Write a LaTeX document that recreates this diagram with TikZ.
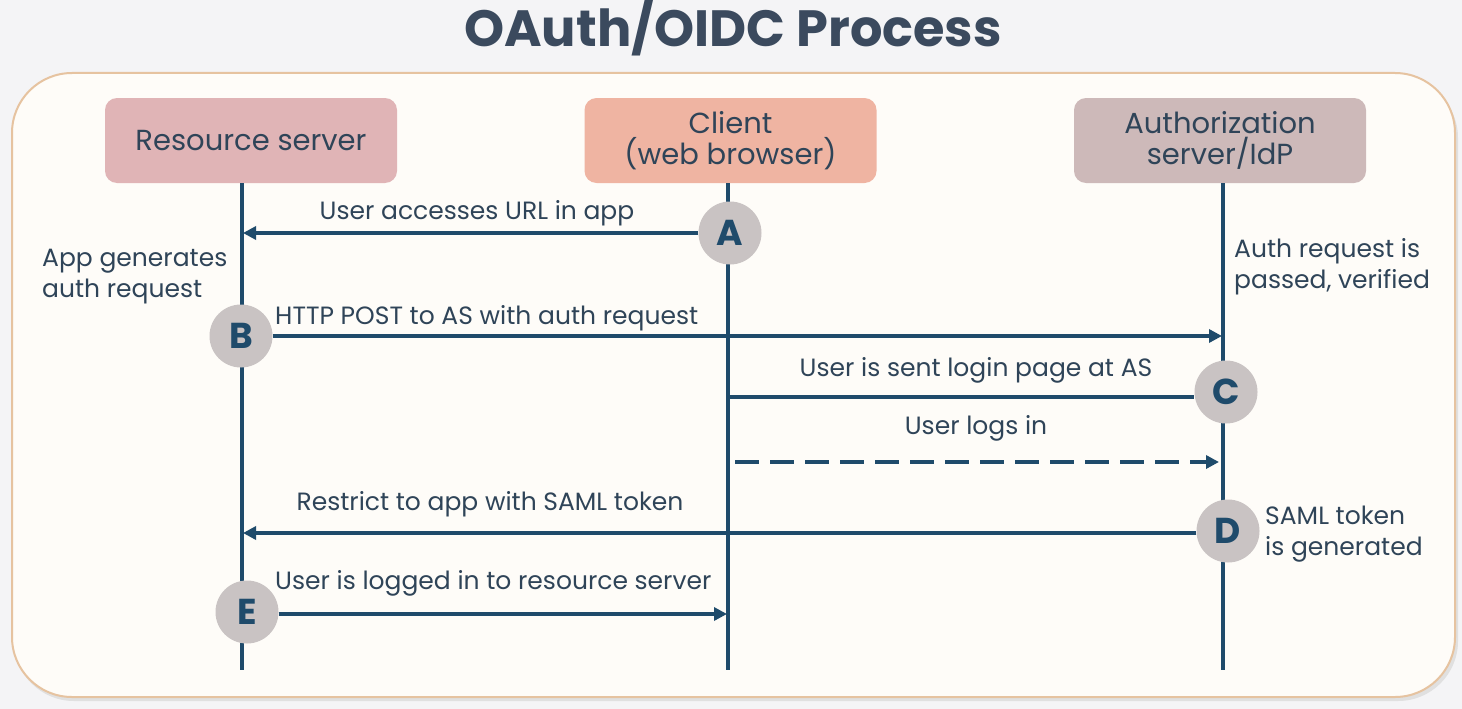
\documentclass[tikz,border=0pt]{standalone}
\usepackage{fontspec}
\setmainfont{Poppins}
\usetikzlibrary{arrows.meta}
\definecolor{ink}{HTML}{1F4B6B}
\definecolor{txt}{HTML}{2F4458}
\definecolor{titlec}{HTML}{3B4A5E}
\definecolor{bg}{HTML}{F4F4F6}
\definecolor{card}{HTML}{FEFCF8}
\definecolor{cardborder}{HTML}{E6C3A0}
\definecolor{rsfill}{HTML}{E0B4B6}
\definecolor{clfill}{HTML}{EFB4A2}
\definecolor{asfill}{HTML}{CDB9B9}
\definecolor{stepfill}{HTML}{C9C3C3}
\tikzset{
  actor/.style={rounded corners=12pt, minimum width=292pt, minimum height=85pt, align=center, text=txt, font=\fontsize{29}{31}\selectfont, inner sep=0pt},
  life/.style={draw=ink, line width=3.4pt},
  stepc/.style={circle, fill=stepfill, minimum size=63pt, inner sep=0pt, text=ink, font=\fontsize{36}{36}\selectfont\bfseries},
  msg/.style={draw=ink, line width=3.4pt, -{Triangle[length=13pt,width=13pt]}},
  msgplain/.style={draw=ink, line width=3.4pt},
  lbl/.style={text=txt, font=\fontsize{25}{31}\selectfont, inner sep=0pt},
  note/.style={text=txt, font=\fontsize{25}{31}\selectfont, inner sep=0pt, align=left},
}
\begin{document}
\begin{tikzpicture}[x=1pt,y=-1pt]
\fill[bg] (0,0) rectangle (1462,709);
\useasboundingbox (0,0) rectangle (1462,709);
% title
\node[text=titlec, font=\fontsize{51}{56}\selectfont\bfseries, inner sep=0pt] (title) at (733,27) {OAuth/OIDC Process};
% card
\fill[black!12, rounded corners=60pt] (14,78) rectangle (1458,701);
\draw[cardborder, fill=card, line width=2pt, rounded corners=60pt] (12,73) rectangle (1455,697);
% actors
\node[actor, fill=rsfill] (rs) at (251,140.5) {Resource server};
\node[actor, fill=clfill] (cl) at (730.5,140.5) {Client\\(web browser)};
\node[actor, fill=asfill] (as) at (1220,140.5) {Authorization\\server/IdP};
% lifeline ends
\coordinate (rsend) at (242,670);
\coordinate (clend) at (728,670);
\coordinate (asend) at (1223,670);
\draw[life] (rs.south -| rsend) -- (rsend);
\draw[life] (cl.south -| clend) -- (clend);
\draw[life] (as.south -| asend) -- (asend);
% steps
\node[stepc] (A) at (730,233) {A};
\node[stepc] (B) at (241,336) {B};
\node[stepc] (C) at (1226,392) {C};
\node[stepc] (D) at (1228,531) {D};
\node[stepc] (E) at (247,612) {E};
% message endpoints
\coordinate (m1) at (243,233);
\coordinate (m2) at (1222,336);
\coordinate (m3) at (728,397);
\coordinate (m4s) at (735,462);
\coordinate (m4e) at (1219,462);
\coordinate (m5) at (243,533);
\coordinate (m6) at (727,614);
% messages
\draw[msg] (A.west) -- (m1);
\node[lbl] (l1) at (477,213) {User accesses URL in app};
\draw[msg] (B.east |- m2) -- (m2);
\node[lbl, anchor=west] (l2) at (275,318) {HTTP POST to AS with auth request};
\draw[msgplain] (m3) -- (m3 -| C.west);
\node[lbl] (l3) at (976,370) {User is sent login page at AS};
\draw[msg, dash pattern=on 24pt off 11pt] (m4s) -- (m4e);
\node[lbl] (l4) at (976,428) {User logs in};
\draw[msg] (D.west |- m5) -- (m5);
\node[lbl] (l5) at (490,504) {Restrict to app with SAML token};
\draw[msg] (E.east |- m6) -- (m6);
\node[lbl, anchor=west] (l6) at (275,583) {User is logged in to resource server};
% notes
\node[note, anchor=north west] (n1) at (42,249) {App generates\\auth request};
\node[note, anchor=north west] (n2) at (1234,238) {Auth request is\\passed, verified};
\node[note, anchor=north west] (n3) at (1265,506) {SAML token\\is generated};
\end{tikzpicture}
\end{document}
